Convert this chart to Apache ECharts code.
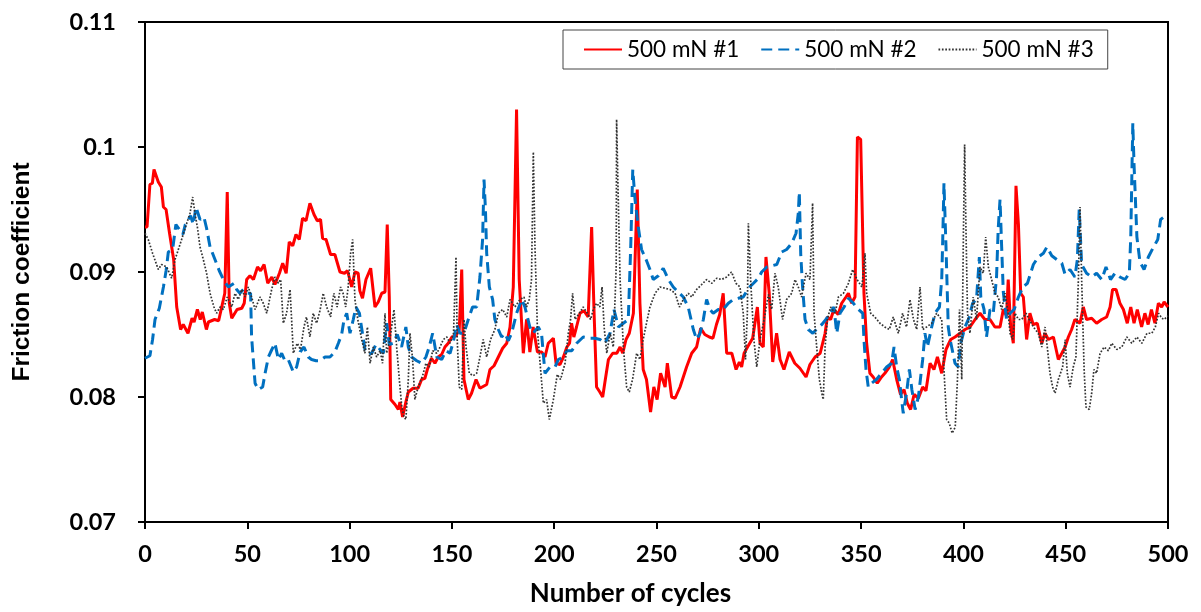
<!DOCTYPE html>
<html>
<head>
<meta charset="utf-8">
<script src="https://cdn.jsdelivr.net/npm/echarts@6/dist/echarts.min.js"></script>
<style>
html,body{margin:0;padding:0;background:#fff;}
#chart{width:1201px;height:612px;}
</style>
</head>
<body>
<div id="chart"></div>
<script>
const seriesNames = ['500 mN #1', '500 mN #2', '500 mN #3'];
const xTicks = [0, 50, 100, 150, 200, 250, 300, 350, 400, 450, 500];
const yTicks = [0.07, 0.08, 0.09, 0.1, 0.11];

// [cycle, friction coefficient]
const run1 = [[0,0.0936],[1,0.0936],[2.4,0.0970],[3.6,0.0971],[4.4,0.0982],[6.5,0.0972],[8,0.0968],[9,0.0952],[10.3,0.0950],[12,0.0931],[14,0.0910],[15.5,0.0872],[17.4,0.0854],[18.7,0.0858],[21,0.0851],[23,0.0863],[24,0.0860],[25.6,0.0870],[27,0.0862],[28,0.0868],[30,0.0854],[31,0.0860],[34,0.0862],[36,0.0861],[37.5,0.0872],[39,0.0883],[40.2,0.0964],[41.2,0.0875],[42.4,0.0863],[45,0.0870],[47.3,0.0871],[48.5,0.0875],[49.7,0.0894],[51.3,0.0897],[53,0.0894],[55,0.0904],[56.5,0.0901],[58.2,0.0906],[60,0.0891],[62,0.0896],[63.5,0.0890],[65.7,0.0899],[67.3,0.0907],[69,0.0899],[70.5,0.0924],[72.2,0.0921],[73.8,0.0930],[75.4,0.0926],[77,0.0943],[78.7,0.0941],[80.6,0.0955],[82.6,0.0946],[84.2,0.0941],[85.8,0.0942],[86.8,0.0927],[88.5,0.0926],[90.7,0.0914],[92.8,0.0914],[95.3,0.0900],[97.5,0.0899],[99,0.0901],[101,0.0888],[102.6,0.0900],[104.2,0.0899],[105,0.0885],[106.3,0.0879],[108,0.0894],[110.3,0.0903],[112.4,0.0872],[114,0.0876],[115.7,0.0883],[117.3,0.0884],[118.4,0.0938],[119.4,0.0880],[120.1,0.0798],[122.2,0.0794],[123.8,0.0790],[124.6,0.0796],[125.9,0.0784],[127.5,0.0796],[128.7,0.0804],[131,0.0807],[133.5,0.0807],[135.2,0.0814],[136.8,0.0815],[138,0.0822],[140,0.0831],[141.7,0.0827],[143.3,0.0832],[145,0.0834],[146.6,0.0840],[148.2,0.0843],[150,0.0848],[152,0.0849],[153.6,0.0854],[154.8,0.0902],[155.9,0.0814],[158,0.0798],[159.6,0.0803],[161.8,0.0814],[163.7,0.0807],[167,0.0810],[168.6,0.0822],[170.6,0.0825],[172.7,0.0832],[174.8,0.0839],[176.8,0.0843],[178.4,0.0856],[180,0.0888],[181.6,0.1030],[182.9,0.0894],[184.9,0.0835],[186.5,0.0862],[188.1,0.0836],[189.7,0.0856],[191.8,0.0836],[193.9,0.0836],[195.5,0.0832],[197.1,0.0843],[199.6,0.0847],[200.9,0.0827],[202.8,0.0826],[204.5,0.0832],[206.2,0.0840],[207.5,0.0843],[208.5,0.0859],[209.6,0.0848],[210.9,0.0856],[212.6,0.0867],[214.5,0.0869],[216.6,0.0864],[218.3,0.0936],[219.5,0.0867],[220.7,0.0808],[222.3,0.0804],[223.7,0.0800],[224.8,0.0812],[226.5,0.0830],[228.6,0.0835],[230.6,0.0835],[232.2,0.0840],[233.5,0.0835],[235.1,0.0846],[236.7,0.0851],[238.7,0.0867],[240.6,0.0966],[241.9,0.0875],[243.5,0.0822],[245.1,0.0814],[247.1,0.0788],[248.7,0.0808],[250.3,0.0798],[252,0.0819],[254.2,0.0808],[255.3,0.0827],[257.4,0.0800],[259.1,0.0799],[261.5,0.0808],[264.7,0.0824],[267.2,0.0835],[269.6,0.0840],[271.6,0.0855],[273.6,0.0850],[275.8,0.0848],[277.6,0.0847],[279.3,0.0858],[280.9,0.0866],[282.6,0.0883],[284.3,0.0835],[286.8,0.0835],[288.9,0.0822],[290.5,0.0828],[291.6,0.0824],[292.8,0.0835],[294.5,0.0840],[297,0.0847],[299.3,0.0872],[300.6,0.0843],[302.2,0.0840],[303.5,0.0912],[305.1,0.0883],[306.8,0.0828],[308.7,0.0851],[310.4,0.0830],[312.3,0.0822],[314.9,0.0836],[317.6,0.0827],[320.1,0.0823],[323.1,0.0816],[325,0.0826],[327.5,0.0832],[330,0.0835],[332.4,0.0851],[333.5,0.0864],[335.1,0.0862],[336.7,0.0870],[338.8,0.0866],[340.5,0.0875],[342.6,0.0880],[343.8,0.0883],[345.4,0.0875],[347,0.0880],[348.2,0.1008],[349.8,0.1006],[351.4,0.0883],[352.7,0.0843],[354.3,0.0819],[355.9,0.0816],[357.9,0.0811],[360,0.0816],[361.6,0.0819],[363.8,0.0824],[365.4,0.0830],[367.4,0.0814],[369.3,0.0802],[371,0.0806],[372.6,0.0795],[374.2,0.0790],[375.9,0.0802],[378,0.0799],[380.1,0.0808],[381.7,0.0805],[383.7,0.0827],[385.6,0.0822],[387.3,0.0832],[389.4,0.0819],[391.5,0.0838],[393.8,0.0846],[395.9,0.0848],[398.4,0.0851],[400.8,0.0854],[403.2,0.0856],[405.7,0.0862],[408.1,0.0867],[410.5,0.0862],[413,0.0862],[415.4,0.0856],[417.9,0.0856],[419.5,0.0870],[421.1,0.0865],[421.9,0.0894],[423.1,0.0856],[424.4,0.0843],[425.7,0.0969],[426.9,0.0938],[428,0.0883],[429.3,0.0880],[430.9,0.0846],[432.5,0.0867],[434.1,0.0858],[436.1,0.0859],[438.3,0.0843],[439.9,0.0851],[441.5,0.0846],[444,0.0848],[446.4,0.0830],[448.1,0.0835],[449.7,0.0840],[451.3,0.0848],[452.9,0.0854],[454.5,0.0862],[457,0.0859],[458.6,0.0872],[460.2,0.0862],[462.7,0.0863],[465.1,0.0859],[467.6,0.0862],[470,0.0864],[471.7,0.0872],[472.9,0.0886],[474.6,0.0886],[476.5,0.0875],[478.2,0.0870],[480.1,0.0859],[481.8,0.0872],[483.4,0.0859],[485,0.0870],[487.1,0.0856],[488.7,0.0867],[490.3,0.0858],[491.9,0.0870],[493.6,0.0859],[495.3,0.0875],[496.9,0.0872],[498.1,0.0876],[500,0.0872]];

const run2 = [[0,0.0831],[2.4,0.0833],[3.7,0.0846],[4.9,0.0862],[7,0.0871],[9,0.0888],[10.3,0.0901],[11.4,0.0916],[13.5,0.0918],[15.1,0.0938],[16.8,0.0934],[18.5,0.0930],[19.7,0.0938],[21.2,0.0942],[22.3,0.0945],[23.6,0.0938],[24.9,0.0952],[26.9,0.0942],[28.8,0.0944],[30.1,0.0935],[31.8,0.0920],[34.2,0.0910],[36.3,0.0901],[38.3,0.0894],[40.7,0.0888],[43.5,0.0891],[44.8,0.0886],[46.4,0.0883],[48,0.0886],[50,0.0883],[51.6,0.0883],[52.1,0.0848],[53.8,0.0811],[55.4,0.0806],[57.5,0.0808],[58.7,0.0819],[60.3,0.0832],[62,0.0838],[63.5,0.0843],[65.2,0.0830],[66.8,0.0835],[68.4,0.0829],[70,0.0830],[72.5,0.0820],[74.1,0.0824],[75.8,0.0836],[77.7,0.0840],[79.8,0.0832],[81.4,0.0830],[83.6,0.0829],[85.5,0.0829],[88,0.0832],[90.4,0.0832],[92.8,0.0836],[94.5,0.0843],[96.1,0.0850],[97.3,0.0862],[98.6,0.0867],[100.2,0.0851],[101.8,0.0862],[103.1,0.0872],[104.8,0.0867],[105.9,0.0855],[107.5,0.0838],[109.1,0.0834],[110.8,0.0835],[112.9,0.0842],[114.9,0.0838],[116.5,0.0835],[118.1,0.0859],[119.4,0.0842],[121.3,0.0843],[123.3,0.0850],[125.4,0.0840],[127.5,0.0856],[128.7,0.0840],[130.3,0.0832],[132.8,0.0829],[135.2,0.0827],[137.3,0.0832],[138.9,0.0840],[140.6,0.0851],[142.6,0.0832],[145,0.0830],[147.1,0.0837],[149.1,0.0835],[150.8,0.0845],[152.3,0.0858],[153.9,0.0851],[155.9,0.0851],[158,0.0862],[160.1,0.0872],[162.1,0.0872],[163.7,0.0896],[165,0.0926],[165.7,0.0974],[166.4,0.0950],[167,0.0915],[168.3,0.0888],[169.9,0.0878],[171,0.0862],[172.7,0.0854],[174.3,0.0848],[175.9,0.0851],[177.6,0.0845],[179.2,0.0851],[181.6,0.0867],[184.1,0.0878],[185.7,0.0872],[188.1,0.0856],[189.7,0.0851],[192.2,0.0856],[193.8,0.0851],[195.5,0.0819],[197.9,0.0824],[200.4,0.0824],[202,0.0830],[204.5,0.0832],[206.2,0.0837],[208.6,0.0837],[211,0.0843],[214.2,0.0848],[217.5,0.0847],[219.9,0.0847],[222.4,0.0846],[224.8,0.0843],[227.3,0.0851],[229.2,0.0870],[231.4,0.0856],[233.8,0.0859],[236.2,0.0862],[237.4,0.0920],[238.4,0.0982],[239.5,0.0958],[241.1,0.0936],[242.7,0.0918],[244.9,0.0910],[246.8,0.0902],[248.4,0.0894],[250.9,0.0897],[253.3,0.0903],[255.8,0.0894],[258.2,0.0888],[260.6,0.0884],[263.1,0.0880],[265.5,0.0872],[268,0.0854],[269.6,0.0846],[271.3,0.0851],[272.9,0.0862],[274.5,0.0878],[276.1,0.0870],[277.7,0.0867],[280.2,0.0870],[282.6,0.0870],[285.1,0.0875],[287.5,0.0878],[290,0.0879],[292.4,0.0880],[294.9,0.0887],[297.4,0.0891],[299.8,0.0895],[301.4,0.0900],[303.9,0.0904],[306.3,0.0905],[308.8,0.0906],[311.2,0.0916],[313.6,0.0918],[316.1,0.0923],[318.2,0.0931],[319.3,0.0947],[319.8,0.0964],[320.5,0.0914],[321.4,0.0888],[322.6,0.0862],[324.2,0.0854],[326.4,0.0851],[328.7,0.0855],[330.8,0.0858],[332.8,0.0862],[334.8,0.0867],[336.7,0.0872],[338.1,0.0851],[339.7,0.0867],[341.7,0.0872],[343.8,0.0879],[346.2,0.0875],[348.7,0.0870],[350.8,0.0867],[351.4,0.0846],[352.4,0.0822],[353.5,0.0808],[355.1,0.0811],[357.5,0.0814],[360,0.0819],[362.5,0.0824],[364.9,0.0827],[366.1,0.0840],[367.4,0.0824],[368.7,0.0814],[369.8,0.0798],[370.6,0.0787],[372.2,0.0803],[373.6,0.0822],[374.8,0.0806],[376.4,0.0790],[378,0.0800],[380.1,0.0830],[381.2,0.0851],[382.4,0.0840],[384.5,0.0856],[386.1,0.0867],[388.3,0.0872],[389.4,0.0894],[389.9,0.0926],[390.5,0.0971],[391.5,0.0920],[392.6,0.0856],[393.5,0.0846],[395.9,0.0827],[397.5,0.0824],[398.7,0.0843],[400.8,0.0856],[402.9,0.0864],[404.5,0.0875],[406.4,0.0878],[407.8,0.0912],[408.5,0.0880],[410.1,0.0870],[411.3,0.0848],[413,0.0870],[414.6,0.0867],[416.2,0.0896],[417,0.0934],[417.9,0.0958],[418.7,0.0920],[419.5,0.0884],[421.1,0.0862],[422.8,0.0867],[424.8,0.0870],[426.9,0.0880],[429.1,0.0888],[431.3,0.0891],[434.2,0.0906],[436.6,0.0912],[439.1,0.0915],[440.8,0.0920],[443.2,0.0913],[445.6,0.0910],[448.1,0.0907],[449.7,0.0898],[452.1,0.0902],[454.5,0.0896],[455.7,0.0910],[456.6,0.0950],[457.8,0.0906],[460.2,0.0899],[462.7,0.0896],[465.1,0.0899],[467.6,0.0894],[469.7,0.0904],[471.9,0.0894],[474.1,0.0899],[476.5,0.0896],[479,0.0894],[481.1,0.0899],[481.8,0.0928],[482.3,0.0974],[482.8,0.1019],[483.4,0.0986],[484.8,0.0928],[486.3,0.0908],[488.3,0.0902],[490.4,0.0912],[492.6,0.0919],[495,0.0926],[496.4,0.0942],[498,0.0944],[500,0.0943]];

const run3 = [[0,0.0931],[1.6,0.0926],[3.7,0.0915],[6.5,0.0902],[8.1,0.0906],[10.6,0.0904],[13,0.0895],[14.7,0.0910],[16.3,0.0918],[17.9,0.0926],[20.4,0.0939],[22,0.0947],[23.3,0.0960],[24.4,0.0947],[25.6,0.0936],[26.9,0.0920],[28.5,0.0910],[30.1,0.0899],[31.8,0.0883],[33.7,0.0872],[35,0.0867],[36.7,0.0872],[38.3,0.0870],[40.2,0.0880],[42.4,0.0872],[44,0.0883],[45.6,0.0878],[47.3,0.0886],[48.9,0.0880],[50.5,0.0888],[52.1,0.0880],[53.8,0.0870],[56.2,0.0880],[57.8,0.0875],[59.5,0.0867],[61.9,0.0886],[63.5,0.0896],[65.2,0.0891],[66.3,0.0894],[67.6,0.0859],[69.2,0.0867],[70.9,0.0886],[72.5,0.0835],[74.4,0.0843],[76,0.0838],[77.7,0.0856],[78.9,0.0864],[80.6,0.0848],[82.2,0.0867],[83.9,0.0859],[85.5,0.0869],[87.1,0.0883],[88.8,0.0872],[90.7,0.0864],[92.3,0.0883],[93.9,0.0872],[95.6,0.0888],[96.8,0.0883],[98.1,0.0872],[99.3,0.0888],[100.5,0.0915],[101.5,0.0926],[102.6,0.0878],[104,0.0862],[105.9,0.0846],[107.5,0.0835],[108.7,0.0856],[110,0.0827],[111.6,0.0840],[113.2,0.0832],[114.9,0.0837],[116.1,0.0827],[117.3,0.0867],[118.1,0.0835],[119.7,0.0846],[121.7,0.0870],[123,0.0840],[124.3,0.0814],[125.5,0.0792],[126.6,0.0784],[127.5,0.0782],[128.7,0.0814],[129.5,0.0851],[130.8,0.0830],[131.9,0.0798],[133.5,0.0808],[135.7,0.0817],[137.3,0.0827],[138.9,0.0824],[140.6,0.0837],[142.6,0.0835],[144.2,0.0840],[145.8,0.0846],[147.5,0.0848],[149.1,0.0843],[150.8,0.0851],[152,0.0912],[152.6,0.0846],[153.6,0.0808],[154.8,0.0806],[155.9,0.0862],[156.9,0.0840],[158.5,0.0819],[160.4,0.0817],[162.1,0.0819],[163.7,0.0832],[165.3,0.0846],[167,0.0832],[168.9,0.0846],[171,0.0854],[172.7,0.0867],[174.8,0.0870],[176.8,0.0864],[178.4,0.0878],[180.8,0.0872],[183.3,0.0878],[185.2,0.0880],[186.5,0.0872],[187.8,0.0878],[188.9,0.0894],[189.8,0.0996],[190.6,0.0920],[191.8,0.0854],[193.1,0.0827],[194.7,0.0795],[196.3,0.0798],[197.6,0.0782],[199.6,0.0798],[201.5,0.0818],[203.1,0.0814],[205.3,0.0827],[206.9,0.0851],[208,0.0862],[209,0.0883],[210.2,0.0862],[212.3,0.0867],[214.2,0.0872],[216.2,0.0867],[217.8,0.0862],[219.1,0.0870],[220.7,0.0875],[222.3,0.0872],[223.4,0.0888],[224.4,0.0856],[225.7,0.0835],[227.3,0.0851],[228.9,0.0840],[230.3,0.0904],[230.5,0.1022],[231.1,0.0974],[232.2,0.0894],[233.8,0.0840],[235.4,0.0808],[236.7,0.0804],[238.3,0.0814],[240.3,0.0835],[241.9,0.0830],[243.5,0.0846],[245.1,0.0859],[246.8,0.0872],[249.3,0.0883],[251.7,0.0888],[254.2,0.0887],[256.6,0.0886],[259.1,0.0883],[261.2,0.0872],[263.1,0.0878],[265.5,0.0883],[267.2,0.0880],[269.6,0.0886],[272.1,0.0890],[274.5,0.0894],[277,0.0891],[279.4,0.0895],[281.8,0.0894],[284.3,0.0896],[286.7,0.0900],[288.8,0.0891],[290.8,0.0888],[292.4,0.0867],[293.5,0.0830],[294.4,0.0867],[294.9,0.0939],[296,0.0894],[297.6,0.0846],[299,0.0824],[300.6,0.0846],[302.6,0.0862],[304.7,0.0882],[306.3,0.0870],[307.9,0.0899],[309.5,0.0888],[311.6,0.0862],[313.6,0.0878],[316.1,0.0883],[317.7,0.0894],[319.3,0.0888],[320.9,0.0880],[323.1,0.0899],[325,0.0894],[326.3,0.0955],[327,0.0867],[328.3,0.0840],[329.6,0.0814],[330.8,0.0803],[331.5,0.0798],[332.4,0.0840],[333.5,0.0862],[335.1,0.0872],[337.3,0.0867],[338.9,0.0880],[341.4,0.0883],[343.8,0.0891],[345.9,0.0902],[348,0.0894],[350.4,0.0888],[351.9,0.0915],[352.7,0.0883],[354.7,0.0867],[356.7,0.0864],[359.2,0.0859],[361.6,0.0856],[363.8,0.0854],[365.7,0.0864],[368.2,0.0851],[370.3,0.0867],[372.2,0.0856],[373.9,0.0878],[375.6,0.0862],[377.2,0.0854],[378.8,0.0888],[380.1,0.0854],[382,0.0856],[384.5,0.0859],[386.9,0.0867],[389.4,0.0862],[390.5,0.0822],[391.8,0.0782],[393.1,0.0779],[394.5,0.0771],[396,0.0776],[397.1,0.0814],[398.1,0.0870],[399.2,0.0814],[400,0.0930],[400.6,0.1002],[401.3,0.0930],[402,0.0867],[403.2,0.0851],[404.8,0.0880],[406.4,0.0862],[408.1,0.0904],[409.7,0.0899],[410.9,0.0928],[412.2,0.0904],[413.8,0.0894],[415.4,0.0883],[417,0.0880],[418.7,0.0870],[420.3,0.0883],[421.9,0.0867],[422.8,0.0851],[424.1,0.0846],[425.2,0.0867],[426.9,0.0862],[428.5,0.0862],[430.6,0.0867],[432.2,0.0862],[434.2,0.0856],[436.6,0.0851],[438.3,0.0840],[439.9,0.0856],[441,0.0840],[442.3,0.0819],[443.6,0.0808],[444.8,0.0803],[446.4,0.0814],[448.5,0.0824],[449.7,0.0846],[450.8,0.0819],[452.1,0.0808],[453.7,0.0824],[455,0.0832],[456.2,0.0894],[457,0.0952],[457.8,0.0894],[459,0.0822],[459.9,0.0792],[461.5,0.0790],[462.7,0.0803],[463.8,0.0822],[465.1,0.0819],[466.8,0.0835],[468.8,0.0840],[470.9,0.0837],[472.5,0.0843],[475,0.0838],[477.4,0.0840],[479.9,0.0848],[482.3,0.0843],[484.8,0.0848],[487.2,0.0843],[489.7,0.0851],[492.1,0.0851],[493.8,0.0856],[495.4,0.0867],[497,0.0863],[498.1,0.0862],[500,0.0865]];

const chart = echarts.init(document.getElementById('chart'), null, {renderer: 'canvas'});
const tickFont = {fontFamily: 'Lato', fontWeight: 'bold', fontSize: 23.5, color: '#000'};

chart.setOption({
  animation: false,
  backgroundColor: '#fff',
  grid: {left: 145, right: 33, top: 22, bottom: 90, show: true, borderColor: '#000', borderWidth: 2, backgroundColor: 'transparent'},
  legend: {
    data: seriesNames,
    left: 563, top: 30,
    padding: [8, 14, 8, 20],
    itemGap: 21,
    itemWidth: 38, itemHeight: 14,
    backgroundColor: '#fff',
    borderColor: '#444', borderWidth: 1,
    itemStyle: {opacity: 0, borderWidth: 0},
    textStyle: {fontFamily: 'Lato', fontSize: 22.5, color: '#000'}
  },
  xAxis: {
    type: 'value', min: xTicks[0], max: xTicks[xTicks.length - 1], interval: 50,
    name: 'Number of cycles', nameLocation: 'middle', nameGap: 59,
    nameTextStyle: {fontFamily: 'Lato', fontWeight: 'bold', fontSize: 26, color: '#000', padding: [0, 52, 0, 0]},
    axisLine: {lineStyle: {color: '#000', width: 2}},
    axisTick: {show: true, inside: false, length: 7, lineStyle: {color: '#000', width: 2}},
    axisLabel: Object.assign({margin: 20}, tickFont),
    splitLine: {show: false}
  },
  yAxis: {
    type: 'value', min: yTicks[0], max: yTicks[yTicks.length - 1], interval: 0.01,
    name: 'Friction coefficient', nameLocation: 'middle', nameGap: 110, nameRotate: 90,
    nameTextStyle: {fontFamily: 'Liberation Sans', fontWeight: 'bold', fontSize: 24.5, color: '#000'},
    axisLine: {show: true, lineStyle: {color: '#000', width: 2}},
    axisTick: {show: true, inside: false, length: 7, lineStyle: {color: '#000', width: 2}},
    axisLabel: Object.assign({margin: 29, formatter: v => String(+(+v).toFixed(2))}, tickFont),
    splitLine: {show: false}
  },
  series: [
    {name: seriesNames[0], type: 'line', data: run1, symbol: 'none', showSymbol: false,
     lineStyle: {color: '#FF0000', width: 3, type: 'solid'}, itemStyle: {color: '#FF0000'}},
    {name: seriesNames[1], type: 'line', data: run2, symbol: 'none', showSymbol: false,
     lineStyle: {color: '#0070C0', width: 3, type: [11, 6]}, itemStyle: {color: '#0070C0'}},
    {name: seriesNames[2], type: 'line', data: run3, symbol: 'none', showSymbol: false,
     lineStyle: {color: '#333333', width: 1.7, type: [1.7, 1.7]}, itemStyle: {color: '#333333'}}
  ]
});
</script>
</body>
</html>
